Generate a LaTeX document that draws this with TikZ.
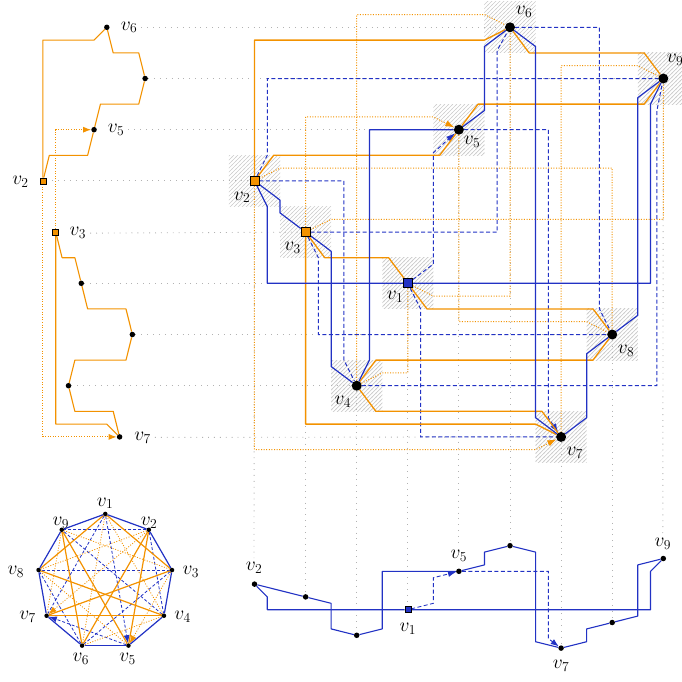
\RequirePackage{fix-cm}
\documentclass[tikz,border=0pt]{standalone}
\usetikzlibrary{arrows.meta,patterns}
\definecolor{myorange}{RGB}{243,146,0}
\definecolor{myblue}{RGB}{34,50,196}
\pgfdeclarelayer{back}\pgfdeclarelayer{mid}\pgfsetlayers{back,mid,main}
\pgfdeclarepatternformonly{myhatch}{\pgfqpoint{-1pt}{-1pt}}{\pgfqpoint{5pt}{5pt}}{\pgfqpoint{4pt}{4pt}}{%
 \pgfsetlinewidth{0.7pt}\pgfpathmoveto{\pgfqpoint{-0.5pt}{-0.5pt}}\pgfpathlineto{\pgfqpoint{4.5pt}{4.5pt}}\pgfusepath{stroke}}
\tikzset{
 os/.style={draw=myorange, line width=1.3pt, line join=round},
 od/.style={draw=myorange, line width=1pt, dash pattern=on 1pt off 1.6pt},
 bs/.style={draw=myblue, line width=1.2pt, line join=round},
 bd/.style={draw=myblue, line width=1pt, dash pattern=on 4pt off 2.5pt},
 gline/.style={draw=black!30, line width=0.9pt, dash pattern=on 0.9pt off 5pt},
 arrowhd/.style={-{Latex[length=9pt,width=6.5pt]}},
 smallhd/.style={-{Latex[length=8pt,width=6pt]}},
 hatchbox/.style={pattern=myhatch, pattern color=black!20},
 mdot/.style={circle, fill=black, inner sep=0pt, minimum size=10pt},
 msq/.style={rectangle, draw=black, line width=0.9pt, inner sep=0pt, minimum size=9pt},
 sdot/.style={circle, fill=black, inner sep=0pt, minimum size=5.5pt},
 ssq/.style={rectangle, draw=black, line width=0.6pt, inner sep=0pt, minimum size=6pt},
 cdot/.style={circle, fill=black, inner sep=0pt, minimum size=4.5pt},
 lab/.style={font=\fontsize{19.5}{22}\selectfont, inner sep=0pt},
}
\begin{document}
\begin{tikzpicture}[x=51.1pt,y=-51.2pt]
\useasboundingbox (-3.9804,0.4668) rectangle (9.3659,13.7676);

% ---------- main vertices ----------
\node[msq,fill=myblue]   (m1) at (4,6) {};
\node[msq,fill=myorange] (m2) at (1,4) {};
\node[msq,fill=myorange] (m3) at (2,5) {};
\node[mdot] (m4) at (3,8) {};
\node[mdot] (m5) at (5,3) {};
\node[mdot] (m6) at (6,1) {};
\node[mdot] (m7) at (7,9) {};
\node[mdot] (m8) at (8,7) {};
\node[mdot] (m9) at (9,2) {};
\node[lab] (ml1) at (3.75,6.27) {$v_1$};
\node[lab] (ml2) at (0.755,4.32) {$v_2$};
\node[lab] (ml3) at (1.744,5.30) {$v_3$};
\node[lab] (ml4) at (2.73,8.32) {$v_4$};
\node[lab] (ml5) at (5.26,3.24) {$v_5$};
\node[lab] (ml6) at (6.274,0.70) {$v_6$};
\node[lab] (ml7) at (7.27,9.31) {$v_7$};
\node[lab] (ml8) at (8.27,7.32) {$v_8$};
\node[lab] (ml9) at (9.23,1.64) {$v_9$};

% ---------- left vertices ----------
\node[sdot] (l1) at (-2.39,6) {};
\node[ssq,fill=myorange] (l2) at (-3.14,4) {};
\node[ssq,fill=myorange] (l3) at (-2.89,5) {};
\node[sdot] (l4) at (-2.64,8) {};
\node[sdot] (l5) at (-2.14,3) {};
\node[sdot] (l6) at (-1.89,1) {};
\node[sdot] (l7) at (-1.64,9) {};
\node[sdot] (l8) at (-1.39,7) {};
\node[sdot] (l9) at (-1.14,2) {};
\node[lab] (ll6) at (-1.455,1.0) {$v_6$};
\node[lab] (ll5) at (-1.71,3.0) {$v_5$};
\node[lab] (ll2) at (-3.58,4.02) {$v_2$};
\node[lab] (ll3) at (-2.458,5.02) {$v_3$};
\node[lab] (ll7) at (-1.19,9.01) {$v_7$};

% ---------- bottom vertices ----------
\node[ssq,fill=myblue] (b1) at (4,12.375) {};
\node[sdot] (b2) at (1,11.875) {};
\node[sdot] (b3) at (2,12.125) {};
\node[sdot] (b4) at (3,12.875) {};
\node[sdot] (b5) at (5,11.625) {};
\node[sdot] (b6) at (6,11.125) {};
\node[sdot] (b7) at (7,13.125) {};
\node[sdot] (b8) at (8,12.625) {};
\node[sdot] (b9) at (9,11.375) {};
\node[lab] (bl2) at (0.99,11.56) {$v_2$};
\node[lab] (bl1) at (4.0,12.75) {$v_1$};
\node[lab] (bl5) at (5.0,11.33) {$v_5$};
\node[lab] (bl7) at (7.0,13.47) {$v_7$};
\node[lab] (bl9) at (8.99,11.09) {$v_9$};

% ---------- circle vertices ----------
\begin{scope}[shift={(-1.92,11.83)}, yscale=-1]
\foreach \k in {1,...,9} \node[cdot] (c\k) at ({90-40*(\k-1)}:1.326) {};
\end{scope}
\node[lab] (cl1) at (-1.925,10.297) {$v_1$};
\node[lab] (cl2) at (-1.061,10.672) {$v_2$};
\node[lab] (cl3) at (-0.246,11.639) {$v_3$};
\node[lab] (cl4) at (-0.409,12.512) {$v_4$};
\node[lab] (cl5) at (-1.485,13.338) {$v_5$};
\node[lab] (cl6) at (-2.399,13.338) {$v_6$};
\node[lab] (cl7) at (-3.442,12.512) {$v_7$};
\node[lab] (cl8) at (-3.671,11.639) {$v_8$};
\node[lab] (cl9) at (-2.791,10.672) {$v_9$};

% ---------- background: hatch and guide lines ----------
\begin{pgfonlayer}{back}
\foreach \i/\j in {4/6,1/4,2/5,3/8,5/3,6/1,7/9,8/7,9/2}
  \fill[hatchbox] (\i-0.5,\j-0.5) rectangle (\i+0.5,\j+0.5);
\draw[gline] ([xshift=4pt]ll6.east) -- (m6);
\draw[gline] (l9) -- (m9);
\draw[gline] ([xshift=4pt]ll5.east) -- (m5);
\draw[gline] (l2) -- (m2);
\draw[gline] ([xshift=4pt]ll3.east) -- (m3);
\draw[gline] (l1) -- (m1);
\draw[gline] (l8) -- (m8);
\draw[gline] (l4) -- (m4);
\draw[gline] ([xshift=4pt]ll7.east) -- (m7);
\draw[gline] (m2) -- ([yshift=4pt]bl2.north);
\draw[gline] (m3) -- (b3);
\draw[gline] (m4) -- (b4);
\draw[gline] (m1) -- (b1);
\draw[gline] (m5) -- ([yshift=4pt]bl5.north);
\draw[gline] (m6) -- (b6);
\draw[gline] (m7) -- (b7);
\draw[gline] (m8) -- (b8);
\draw[gline] (m9) -- ([yshift=4pt]bl9.north);
\end{pgfonlayer}

\begin{pgfonlayer}{mid}
% ---------- main: orange dotted ----------
\draw[od] (m4) -- (3,0.75) -- (5.5,0.75) -- (m6);
\draw[od,arrowhd] (m3) -- (2,2.75) -- (4.5,2.75) -- (m5);
\draw[od] (m2) -- (1.5,3.75) -- (8,3.75) -- (m8);
\draw[od] (m5) -- (5,6.75) -- (7.5,6.75) -- (m8);
\draw[od] (m1) -- (4.5,6.25) -- (6,6.25) -- (m6);
\draw[od] (m9) -- (8.5,1.75) -- (7,1.75) -- (m7);
\draw[od] (m3) -- (2.5,4.75) -- (9,4.75) -- (m9);
\draw[od] (m4) -- (3.5,7.75) -- (4,7.75) -- (m1);
\draw[od,arrowhd] (m2) -- (1,9.25) -- (6.5,9.25) -- (m7);
% ---------- main: blue dashed ----------
\draw[bd] (m2) -- (1.25,3.5) -- (1.25,2) -- (m9);
\draw[bd] (m2) -- (2.75,4) -- (2.75,7.5) -- (m4);
\draw[bd,arrowhd] (m1) -- (4.5,5.625) -- (4.5,3.45) -- (m5);
\draw[bd] (m6) -- (7.75,1) -- (7.75,6.5) -- (m8);
\draw[bd] (m3) -- (5.75,5) -- (5.75,1.45) -- (m6);
\draw[bd,arrowhd] (m5) -- (6.75,3) -- (6.75,8.625) -- (m7);
\draw[bd] (m4) -- (8.875,8) -- (8.875,2.625) -- (m9);
\draw[bd] (m3) -- (2.25,5.5) -- (2.25,7) -- (m8);
\draw[bd] (m1) -- (4.25,6.5) -- (4.25,9) -- (m7);
% ---------- main: orange solid ----------
\draw[os] (m6) -- (6.375,1.5) -- (8.625,1.5) -- (m9);
\draw[os] (m9) -- (8.625,2.5) -- (5.375,2.5) -- (m5);
\draw[os] (m5) -- (4.625,3.5) -- (1.375,3.5) -- (m2);
\draw[os] (m2) -- (1,1.25) -- (5.5,1.25) -- (m6);
\draw[os] (m3) -- (2.375,5.5) -- (3.625,5.5) -- (m1);
\draw[os] (m1) -- (4.375,6.5) -- (7.625,6.5) -- (m8);
\draw[os] (m8) -- (7.625,7.5) -- (3.375,7.5) -- (m4);
\draw[os] (m4) -- (3.375,8.5) -- (6.625,8.5) -- (m7);
\draw[os] (m3) -- (2,8.75) -- (6.5,8.75) -- (m7);
% ---------- main: blue solid ----------
\draw[bs] (m1) -- (1.25,6) -- (1.25,4.5) -- (m2);
\draw[bs] (m2) -- (1.5,4.375) -- (1.5,4.625) -- (m3);
\draw[bs] (m3) -- (2.5,5.375) -- (2.5,7.625) -- (m4);
\draw[bs] (m4) -- (3.25,7.5) -- (3.25,3) -- (m5);
\draw[bs] (m5) -- (5.5,2.625) -- (5.5,1.375) -- (m6);
\draw[bs] (m6) -- (6.5,1.375) -- (6.5,8.625) -- (m7);
\draw[bs] (m7) -- (7.5,8.625) -- (7.5,7.375) -- (m8);
\draw[bs] (m8) -- (8.5,6.625) -- (8.5,2.375) -- (m9);
\draw[bs] (m9) -- (8.75,2.5) -- (8.75,6) -- (m1);

% ---------- left panel ----------
\draw[os,line width=1.1pt] (l6) -- (-1.765,1.5) -- (-1.265,1.5) -- (l9);
\draw[os,line width=1.1pt] (l9) -- (-1.265,2.5) -- (-2.015,2.5) -- (l5);
\draw[os,line width=1.1pt] (l5) -- (-2.265,3.5) -- (-3.015,3.5) -- (l2);
\draw[os,line width=1.1pt] (l2) -- (-3.14,1.25) -- (-2.14,1.25) -- (l6);
\draw[os,line width=1.1pt] (l3) -- (-2.765,5.5) -- (-2.515,5.5) -- (l1);
\draw[os,line width=1.1pt] (l1) -- (-2.265,6.5) -- (-1.515,6.5) -- (l8);
\draw[os,line width=1.1pt] (l8) -- (-1.515,7.5) -- (-2.515,7.5) -- (l4);
\draw[os,line width=1.1pt] (l4) -- (-2.515,8.5) -- (-1.765,8.5) -- (l7);
\draw[os,line width=1.1pt] (l3) -- (-2.89,8.75) -- (-1.89,8.75) -- (l7);
\draw[od,line width=0.9pt,smallhd] (l3) -- (-2.89,3) -- (l5);
\draw[od,line width=0.9pt,smallhd] (l2) -- (-3.14,9) -- (l7);

% ---------- bottom panel ----------
\draw[bs,line width=1.1pt] (b2) -- (b3);
\draw[bs,line width=1.1pt] (b3) -- (2.5,12.25) -- (2.5,12.75) -- (b4);
\draw[bs,line width=1.1pt] (b4) -- (3.5,12.75) -- (3.5,11.625) -- (b5);
\draw[bs,line width=1.1pt] (b5) -- (5.5,11.5) -- (5.5,11.25) -- (b6);
\draw[bs,line width=1.1pt] (b6) -- (6.5,11.25) -- (6.5,13) -- (b7);
\draw[bs,line width=1.1pt] (b7) -- (7.5,13) -- (7.5,12.75) -- (b8);
\draw[bs,line width=1.1pt] (b8) -- (8.5,12.5) -- (8.5,11.5) -- (b9);
\draw[bs,line width=1.1pt] (b9) -- (8.75,11.625) -- (8.75,12.375) -- (b1);
\draw[bs,line width=1.1pt] (b1) -- (1.25,12.375) -- (1.25,12.125) -- (b2);
\draw[bd,line width=0.9pt,smallhd] (b1) -- (4.5,12.25) -- (4.5,11.75) -- (b5);
\draw[bd,line width=0.9pt,smallhd] (b5) -- (6.75,11.625) -- (6.75,12.94) -- (b7);

% ---------- circle ----------
\foreach \a/\b in {2/9,2/4,6/8,3/6,4/9,3/8,1/7}
  \draw[bd,line width=0.8pt,dash pattern=on 3pt off 2pt] (c\a) -- (c\b);
\draw[bd,line width=0.8pt,dash pattern=on 3pt off 2pt,smallhd] (c1) -- (c5);
\draw[bd,line width=0.8pt,dash pattern=on 3pt off 2pt,smallhd] (c5) -- (c7);
\foreach \a/\b in {4/6,2/8,5/8,1/6,9/7,3/9,4/1}
  \draw[od,line width=0.8pt] (c\a) -- (c\b);
\draw[od,line width=0.8pt,smallhd] (c3) -- (c5);
\draw[od,line width=0.8pt,smallhd] (c2) -- (c7);
\foreach \a/\b in {2/6,2/5,6/9,9/5,3/1,1/8,8/4,4/7,3/7}
  \draw[os,line width=1.2pt] (c\a) -- (c\b);
\foreach \a/\b in {1/2,2/3,3/4,4/5,5/6,6/7,7/8,8/9,9/1}
  \draw[bs,line width=1.2pt] (c\a) -- (c\b);
\end{pgfonlayer}
\end{tikzpicture}
\end{document}
